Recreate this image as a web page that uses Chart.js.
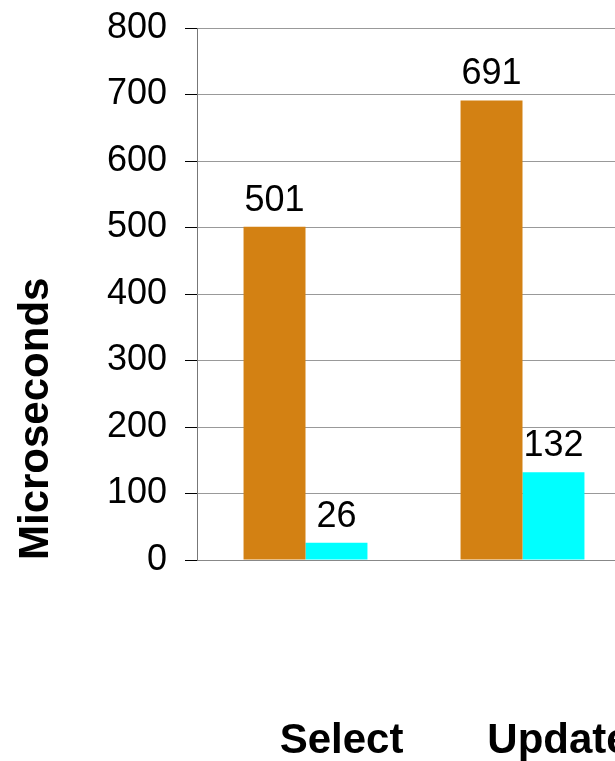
<!DOCTYPE html>
<html>
<head>
<meta charset="utf-8">
<script src="https://cdn.jsdelivr.net/npm/chart.js@4.4.1/dist/chart.umd.min.js"></script>
<style>
  html, body { margin: 0; padding: 0; background: #fff; overflow: hidden; }
  #wrap { width: 640px; height: 761px; }
</style>
</head>
<body>
<div id="wrap"><canvas id="chart" width="640" height="761"></canvas></div>
<script>
// values
const categories = ["Select", "Update"];
const seriesA = [501, 691];
const seriesB = [26, 132];
const yTicks = [0, 100, 200, 300, 400, 500, 600, 700, 800];

const FONT = "'Liberation Sans', Arial, Helvetica, sans-serif";

// value above every bar, and the category names far below the axis
const valueLabels = {
  id: "valueLabels",
  afterDatasetsDraw(chart) {
    let ctx = chart.ctx;
    ctx.save();
    ctx.font = "36px " + FONT;
    ctx.fillStyle = "#000";
    ctx.textAlign = "center";
    ctx.textBaseline = "bottom";
    chart.data.datasets.forEach((ds, i) => {
      chart.getDatasetMeta(i).data.forEach((bar, j) => {
        ctx.fillText(ds.data[j], bar.x, bar.y - 8);
      });
    });
    ctx.font = "bold 42px " + FONT;
    ctx.textBaseline = "alphabetic";
    let xs = chart.scales.x;
    chart.data.labels.forEach((lab, j) => {
      ctx.fillText(lab, xs.getPixelForValue(j) + 36, xs.bottom - 8);
    });
    ctx.restore();
  }
};

new Chart(document.getElementById("chart"), {
  type: "bar",
  data: {
    labels: categories,
    datasets: [
      { data: seriesA, backgroundColor: "#D38113", categoryPercentage: 0.571, barPercentage: 1.0 },
      { data: seriesB, backgroundColor: "#00FFFF", categoryPercentage: 0.571, barPercentage: 1.0 }
    ]
  },
  options: {
    responsive: false,
    animation: false,
    layout: { padding: { top: 28, right: 9, left: 0, bottom: 0 } },
    plugins: { legend: { display: false }, tooltip: { enabled: false } },
    scales: {
      x: {
        grid: { display: false, drawTicks: false },
        border: { display: true, color: "#888" },
        ticks: { display: false },
        afterFit(scale) { scale.height = 201; }
      },
      y: {
        min: 0,
        max: 800,
        afterBuildTicks(scale) { scale.ticks = yTicks.map(v => ({ value: v })); },
        grid: { color: "#999", tickLength: 12, tickColor: "#000" },
        border: { display: true, color: "#777" },
        ticks: {
          color: "#000",
          font: { family: FONT, size: 36 },
          padding: 18
        },
        title: {
          display: true,
          text: "Microseconds",
          align: "start",
          color: "#000",
          font: { family: FONT, size: 42, weight: "bold" },
          padding: { top: 11, bottom: 0 }
        },
        afterFit(scale) {
          scale.width = 197;
          scale.paddingTop = 0;
          scale.paddingBottom = 0;
        }
      }
    }
  },
  plugins: [valueLabels]
});
</script>
</body>
</html>
